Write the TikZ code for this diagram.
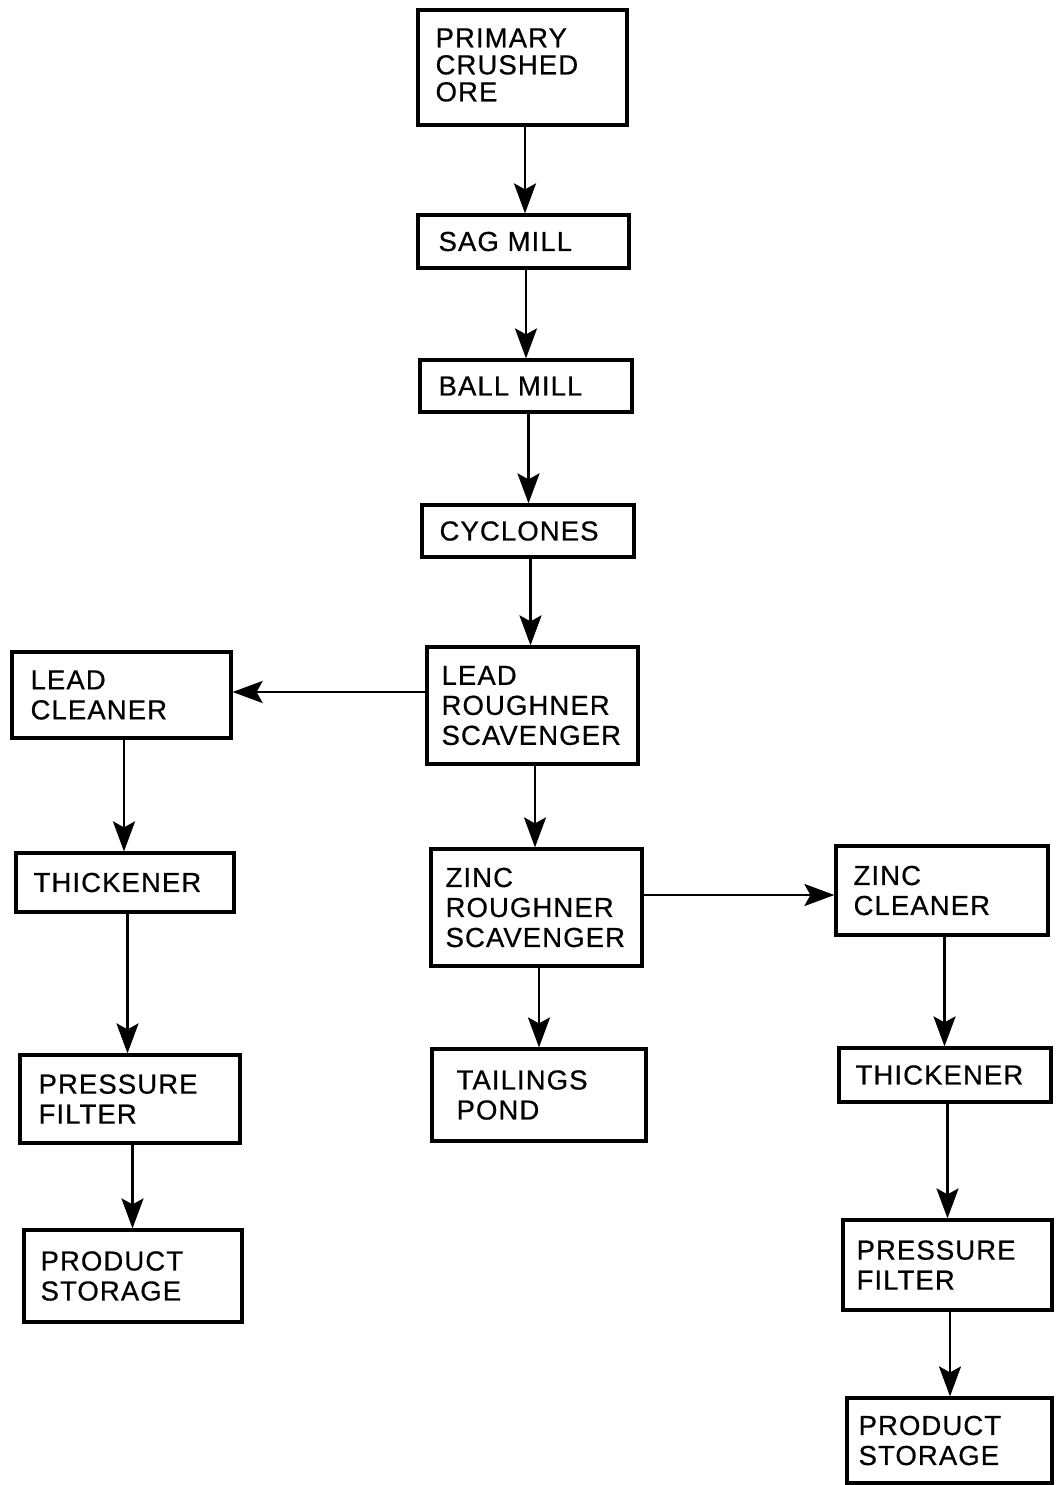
\documentclass[tikz,border=0pt]{standalone}
\usepackage{fontspec}
\setmainfont{Liberation Sans}[LetterSpace=4, FakeBold=0.6]
\usetikzlibrary{arrows.meta}
\tikzset{
  box/.style={draw, line width=3.2pt, inner sep=0pt},
  lbl/.style={anchor=west, align=left, inner sep=0pt, font=\fontsize{27.5}{30}\selectfont},
  tight/.style={font=\fontsize{27.5}{27}\selectfont},
  arr/.style={line width=2.8pt, -{Stealth[length=30pt, width=22pt, inset=6pt]}}
}
\newcommand\flowbox[8][]{%
  \node[box, minimum width=#5pt, minimum height=#6pt] (#2) at (#3,#4) {};
  \node[lbl,#1] (#2t) at ([xshift=#7pt]#2.west) {#8};
}
\begin{document}
\begin{tikzpicture}[x=1pt,y=-1pt]
\useasboundingbox (0,0) rectangle (1055,1485);
\flowbox[tight,yshift=2.5pt]{pco}{522.5}{67.5}{209}{115}{19}{PRIMARY\\CRUSHED\\ORE}
\flowbox{sag}{523.5}{241.5}{211}{53}{22}{SAG MILL}
\flowbox{ball}{526}{386}{212}{52}{20}{BALL MILL}
\flowbox{cyc}{528}{531}{212}{52}{19}{CYCLONES}
\flowbox{lrs}{532.5}{705.5}{211}{117}{16}{LEAD\\ROUGHNER\\SCAVENGER}
\flowbox{lc}{121.5}{695}{219}{86}{20}{LEAD\\CLEANER}
\flowbox{thl}{125}{882.5}{218}{59}{19}{THICKENER}
\flowbox{pfl}{130}{1099}{220}{88}{20}{PRESSURE\\FILTER}
\flowbox{psl}{133}{1276}{218}{92}{18}{PRODUCT\\STORAGE}
\flowbox{zrs}{536.5}{907.5}{211}{117}{16}{ZINC\\ROUGHNER\\SCAVENGER}
\flowbox{tp}{539}{1095}{214}{92}{26}{TAILINGS\\POND}
\flowbox{zc}{942}{890.5}{212}{89}{19}{ZINC\\CLEANER}
\flowbox{thr}{945}{1075}{212}{54}{18}{THICKENER}
\flowbox{pfr}{947.5}{1265}{209}{90}{15}{PRESSURE\\FILTER}
\flowbox{psr}{949.5}{1440.5}{205}{85}{13}{PRODUCT\\STORAGE}
\foreach \a/\b in {pco/sag,sag/ball,ball/cyc,cyc/lrs,lrs/zrs,lc/thl,thl/pfl,pfl/psl,zrs/tp,zc/thr,thr/pfr,pfr/psr}
  \draw[arr] ([xshift=2.5pt]\a.south) -- ([xshift=2.5pt]\a.south |- \b.north);
\draw[arr] ([yshift=3pt]lrs.west |- lc.east) -- ([yshift=3pt]lc.east);
\draw[arr] ([yshift=-4.5pt]zrs.east |- zc.west) -- ([yshift=-4.5pt]zc.west);
\end{tikzpicture}
\end{document}
